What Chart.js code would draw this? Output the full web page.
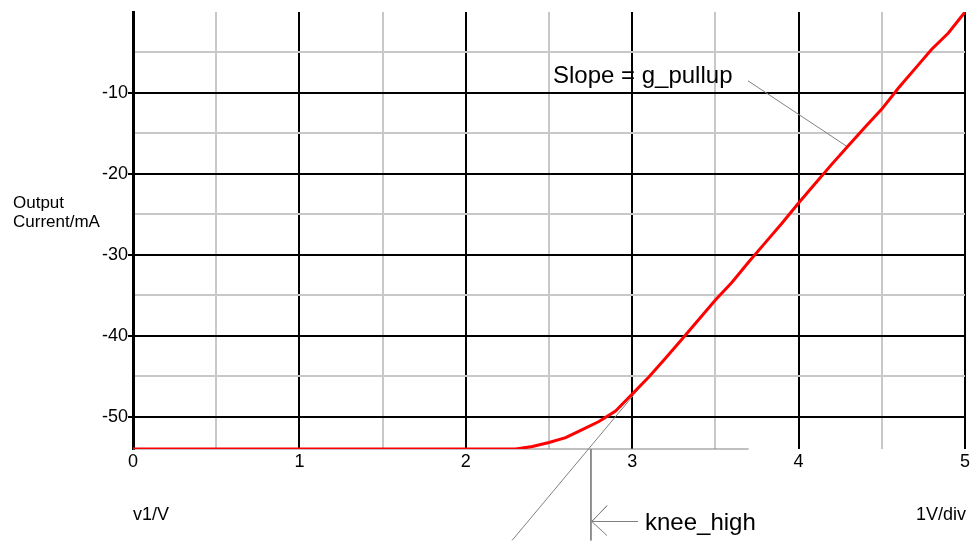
<!DOCTYPE html>
<html>
<head>
<meta charset="utf-8">
<script src="https://cdn.jsdelivr.net/npm/chart.js@4"></script>
<style>
  html, body { margin: 0; padding: 0; background: #fff; }
  #wrap { width: 970px; height: 541px; position: relative; }
</style>
</head>
<body>
<div id="wrap"><canvas id="chartCurrent"></canvas></div>
<script>
// v1 (V) and output current (mA)
const voltage = [0, 2.3, 2.4, 2.5, 2.6, 2.7, 2.8, 2.9, 3.0, 3.1, 3.2, 3.3, 3.4, 3.5, 3.6, 3.7, 3.8, 3.9, 4.0, 4.1, 4.2, 4.3, 4.4, 4.5, 4.6, 4.7, 4.8, 4.9, 5.0]
const current = [-54, -54, -53.7, -53.2, -52.6, -51.6, -50.6, -49.3, -47.2, -45.1, -42.8, -40.4, -38.0, -35.6, -33.4, -30.9, -28.5, -26.1, -23.6, -21.2, -18.8, -16.5, -14.2, -12.0, -9.4, -7.0, -4.6, -2.6, 0]

const xTicks = [0, 0.5, 1, 1.5, 2, 2.5, 3, 3.5, 4, 4.5, 5]
const yTicks = [-50, -45, -40, -35, -30, -25, -20, -15, -10, -5]

// construction lines (grey)
const tangentX = [2.278, 3.095]
const tangentY = [-65.3, -45.2]
const baseX = [0, 3.7]
const baseY = [-54, -54]
const kneeX = [2.752, 2.752]
const kneeY = [-54, -65.3]
const leaderX = [3.696, 4.297]
const leaderY = [-8.5, -16.7]
const arrowX = [3.035, 2.757, 2.849, 2.757, 2.849]
const arrowY = [-62.96, -62.96, -61.0, -62.96, -64.7]

const FONT = '"Liberation Sans", Arial, sans-serif'

function pts(xs, ys) {
  return xs.map((x, i) => ({ x: x, y: ys[i] }))
}

function greyLine(xs, ys) {
  return {
    data: pts(xs, ys),
    borderColor: '#808080',
    borderWidth: 1,
    pointRadius: 0,
    tension: 0,
    clip: false,
    order: 2
  }
}

const labelsPlugin = {
  id: 'labels',
  afterDraw: (chart) => {
    const { ctx, scales } = chart
    const x = scales.x
    const y = scales.y
    ctx.save()
    ctx.fillStyle = '#000'
    ctx.textBaseline = 'alphabetic'

    ctx.font = '17px ' + FONT
    ctx.textAlign = 'left'
    ctx.fillText('Output', 13, 208)
    ctx.fillText('Current/mA', 13, 227)

    ctx.font = '18px ' + FONT
    ctx.fillText('v1/V', 133, 520)
    ctx.textAlign = 'right'
    ctx.fillText('1V/div', 966, 520)

    ctx.font = '24px ' + FONT
    ctx.textAlign = 'left'
    ctx.fillText('Slope = g_pullup', x.getPixelForValue(2.524), y.getPixelForValue(-8.77))
    ctx.fillText('knee_high', x.getPixelForValue(3.077), y.getPixelForValue(-63.95))
    ctx.restore()
  }
}

new Chart(document.getElementById('chartCurrent'), {
  type: 'line',
  data: {
    datasets: [
      {
        data: pts(voltage, current),
        borderColor: '#ff0000',
        borderWidth: 3,
        pointRadius: 0,
        tension: 0,
        order: 1
      },
      greyLine(tangentX, tangentY),
      greyLine(baseX, baseY),
      greyLine(kneeX, kneeY),
      greyLine(leaderX, leaderY),
      greyLine(arrowX, arrowY)
    ]
  },
  options: {
    responsive: true,
    maintainAspectRatio: false,
    animation: false,
    layout: { padding: { top: 12, right: 5, left: 0, bottom: 0 } },
    plugins: {
      legend: { display: false },
      tooltip: { enabled: false }
    },
    scales: {
      x: {
        type: 'linear',
        min: 0,
        max: 5,
        afterBuildTicks: (scale) => { scale.ticks = xTicks.map(v => ({ value: v })) },
        afterFit: (scale) => {
          scale.height = 92
          scale.paddingLeft = 0
          scale.paddingRight = 0
        },
        border: { display: false },
        grid: {
          drawTicks: false,
          color: (c) => (c.tick && Number.isInteger(c.tick.value)) ? '#000' : '#c8c8c8',
          lineWidth: 2
        },
        ticks: {
          padding: 2,
          maxRotation: 0,
          color: '#000',
          font: { size: 18, family: FONT },
          callback: (v) => Number.isInteger(v) ? String(v) : ''
        }
      },
      y: {
        type: 'linear',
        min: -54,
        max: 0,
        afterBuildTicks: (scale) => { scale.ticks = yTicks.map(v => ({ value: v })) },
        afterFit: (scale) => { scale.width = 133 },
        border: { display: true, color: '#000', width: 3 },
        grid: {
          drawTicks: true,
          tickLength: 5,
          color: (c) => (c.tick && c.tick.value % 10 === 0) ? '#000' : '#c8c8c8',
          tickColor: (c) => (c.tick && c.tick.value % 10 === 0) ? '#000' : 'rgba(0,0,0,0)',
          lineWidth: 2
        },
        ticks: {
          padding: 0,
          color: '#000',
          font: { size: 18, family: FONT },
          callback: (v) => (v % 10 === 0) ? String(v) : ''
        }
      }
    }
  },
  plugins: [labelsPlugin]
})
</script>
</body>
</html>
